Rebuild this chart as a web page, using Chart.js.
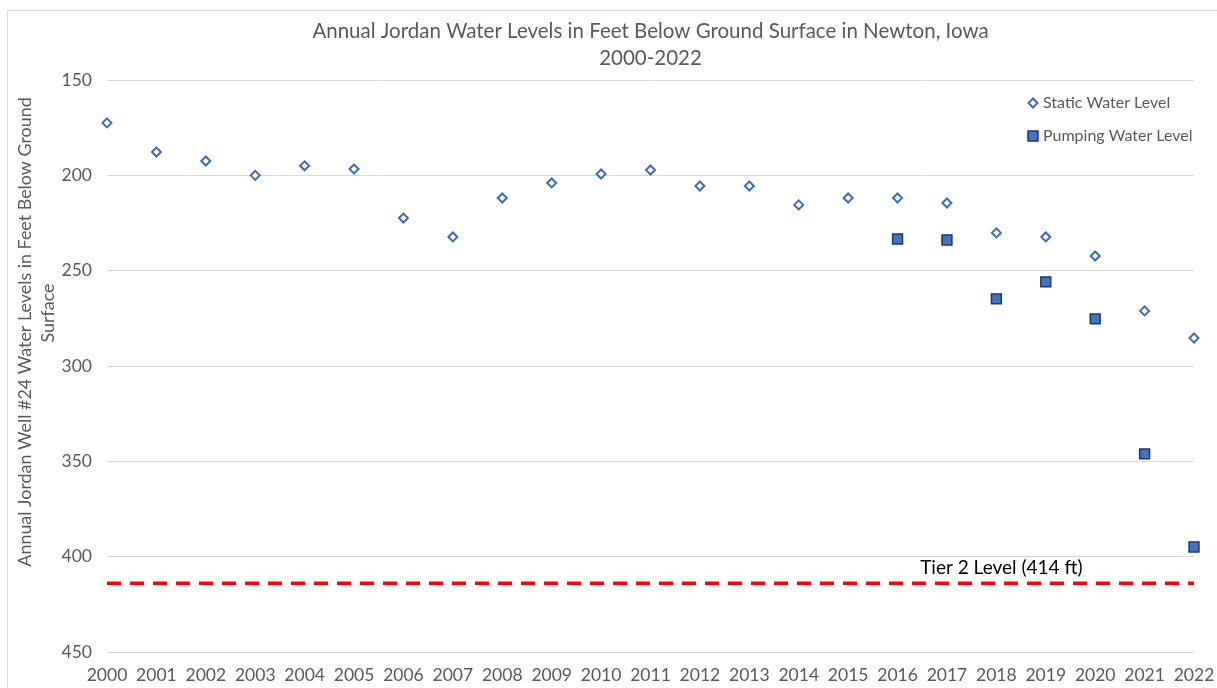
<!DOCTYPE html>
<html>
<head>
<meta charset="utf-8">
<script src="https://cdn.jsdelivr.net/npm/chart.js@4/dist/chart.umd.min.js"></script>
<style>
  html, body { margin: 0; padding: 0; background: #fff; }
  #wrap { position: relative; width: 1217px; height: 688px; }
</style>
</head>
<body>
<div id="wrap"><canvas id="chart"></canvas></div>
<script>
// Annual Jordan well #24 water levels (ft below ground surface)
const years = [2000, 2001, 2002, 2003, 2004, 2005, 2006, 2007, 2008, 2009, 2010, 2011,
  2012, 2013, 2014, 2015, 2016, 2017, 2018, 2019, 2020, 2021, 2022];
const staticLevels = [172.5, 187.8, 192.5, 200, 195, 196.7, 222.4, 232.3, 211.9, 204, 199.3, 197.2,
  205.6, 205.6, 215.5, 211.9, 211.9, 214.5, 230.2, 232.3, 242.3, 271.1, 285.3];
const pumpingYears = [2016, 2017, 2018, 2019, 2020, 2021, 2022];
const pumpingLevels = [233.4, 233.9, 264.8, 255.9, 275.3, 346.1, 394.9];
const tier2Level = 414;
const tier2Label = "Tier 2 Level (414 ft)";
const titleLines = ["Annual Jordan Water Levels in Feet Below Ground Surface in Newton, Iowa", "2000-2022"];
const yTitleLines = ["Annual Jordan Well #24 Water Levels in Feet Below Ground", "Surface"];
const legendNames = ["Static Water Level", "Pumping Water Level"];

const FONT = "Lato, 'Open Sans', sans-serif";
const GREY = "#595959";

// 외곽선, 제목, 축 제목, 범례, Tier 2 라벨
const decorPlugin = {
  id: "decor",
  beforeDraw(chart) {
    const ctx = chart.ctx;
    ctx.save();
    ctx.fillStyle = "#fff";
    ctx.fillRect(0, 0, chart.width, chart.height);
    ctx.strokeStyle = "#d9d9d9";
    ctx.lineWidth = 1;
    ctx.strokeRect(7.5, 10.5, chart.width + 10, chart.height + 10);
    ctx.restore();
  },
  afterDraw(chart) {
    const ctx = chart.ctx;
    const area = chart.chartArea;
    const xs = chart.scales.x;
    const ys = chart.scales.y;
    ctx.save();

    // title
    ctx.fillStyle = GREY;
    ctx.font = "20.5px " + FONT;
    ctx.textAlign = "center";
    ctx.textBaseline = "middle";
    const cx = (area.left + area.right) / 2;
    ctx.fillText(titleLines[0], cx, 31);
    ctx.fillText(titleLines[1], cx, 58);

    // y axis title (rotated)
    ctx.save();
    ctx.font = "17.9px " + FONT;
    ctx.translate(25, 332);
    ctx.rotate(-Math.PI / 2);
    ctx.fillText(yTitleLines[0], 0, 0);
    ctx.restore();
    ctx.save();
    ctx.font = "17.9px " + FONT;
    ctx.translate(48, 313);
    ctx.rotate(-Math.PI / 2);
    ctx.fillText(yTitleLines[1], 0, 0);
    ctx.restore();

    // tier 2 label
    ctx.fillStyle = "#000";
    ctx.font = "19px " + FONT;
    ctx.fillText(tier2Label, xs.getPixelForValue(2018.1), ys.getPixelForValue(tier2Level) - 15);

    // legend
    ctx.font = "16px " + FONT;
    ctx.textAlign = "left";
    const lx = 1033;
    ctx.beginPath();
    ctx.moveTo(lx - 4.5, 103);
    ctx.lineTo(lx, 98.5);
    ctx.lineTo(lx + 4.5, 103);
    ctx.lineTo(lx, 107.5);
    ctx.closePath();
    ctx.fillStyle = "#fff";
    ctx.fill();
    ctx.strokeStyle = "#3f6bb5";
    ctx.lineWidth = 2;
    ctx.stroke();
    ctx.fillStyle = "#4472c4";
    ctx.fillRect(lx - 5, 131, 10, 10);
    ctx.strokeStyle = "#1f3864";
    ctx.lineWidth = 1.5;
    ctx.strokeRect(lx - 5, 131, 10, 10);

    ctx.fillStyle = GREY;
    ctx.fillText(legendNames[0], 1043, 103);
    ctx.fillText(legendNames[1], 1043, 136);
    ctx.restore();
  }
};

new Chart(document.getElementById("chart"), {
  type: "scatter",
  data: {
    datasets: [
      {
        label: legendNames[0],
        data: years.map((y, i) => ({ x: y, y: staticLevels[i] })),
        pointStyle: "rectRot",
        pointRadius: 4.5,
        pointHoverRadius: 4.5,
        backgroundColor: "#fff",
        borderColor: "#3f6bb5",
        borderWidth: 2,
        clip: false,
        order: 1
      },
      {
        label: legendNames[1],
        data: pumpingYears.map((y, i) => ({ x: y, y: pumpingLevels[i] })),
        pointStyle: "rect",
        pointRadius: 7,
        pointHoverRadius: 7,
        backgroundColor: "#4472c4",
        borderColor: "#1f3864",
        borderWidth: 1.5,
        clip: false,
        order: 1
      },
      {
        type: "line",
        label: "Tier 2",
        data: [{ x: years[0], y: tier2Level }, { x: years[years.length - 1], y: tier2Level }],
        borderColor: "#ff0000",
        borderWidth: 3.5,
        borderDash: [14, 9],
        pointRadius: 0,
        fill: false,
        clip: false,
        order: 2
      }
    ]
  },
  options: {
    responsive: true,
    maintainAspectRatio: false,
    animation: false,
    layout: { padding: { left: 7, right: 23, top: 80, bottom: 0 } },
    plugins: {
      legend: { display: false },
      title: { display: false },
      tooltip: { enabled: false }
    },
    scales: {
      x: {
        type: "linear",
        min: 2000,
        max: 2022,
        ticks: {
          stepSize: 1,
          padding: 13,
          color: GREY,
          font: { family: FONT, size: 17.5 },
          maxRotation: 0,
          autoSkip: false,
          callback: (v) => String(v)
        },
        grid: { display: false, drawTicks: false },
        border: { display: false },
        afterFit(scale) {
          scale.height = 36;
          scale.paddingLeft = 0;
          scale.paddingRight = 0;
        }
      },
      y: {
        reverse: true,
        min: 150,
        max: 450,
        ticks: {
          stepSize: 50,
          padding: 15,
          color: GREY,
          font: { family: FONT, size: 17.5 }
        },
        grid: { color: "#d9d9d9", lineWidth: 1, drawTicks: false },
        border: { display: false },
        afterFit(scale) {
          scale.width = 100;
          scale.paddingTop = 0;
          scale.paddingBottom = 0;
        }
      }
    }
  },
  plugins: [decorPlugin]
});
</script>
</body>
</html>
